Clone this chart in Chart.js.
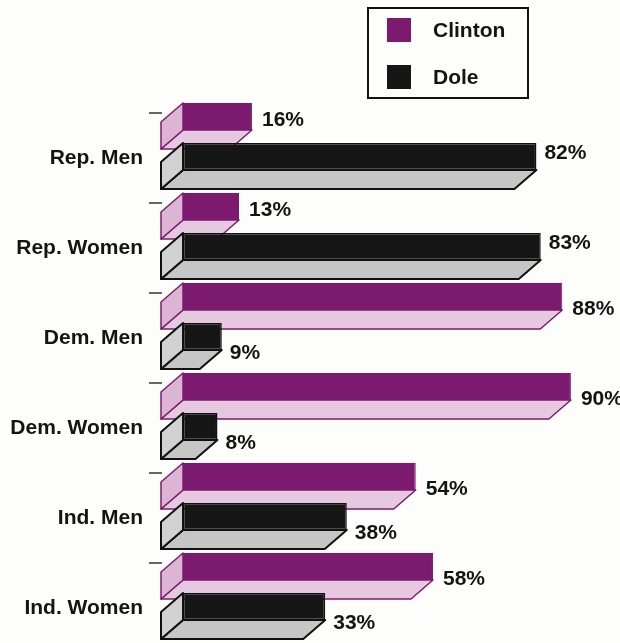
<!DOCTYPE html>
<html>
<head>
<meta charset="utf-8">
<script src="https://cdn.jsdelivr.net/npm/chart.js@4.4.1/dist/chart.umd.min.js"></script>
<style>
  body { margin: 0; background: #fdfdfc; }
  canvas { display: block; }
</style>
</head>
<body>
<canvas id="votes" width="620" height="643"></canvas>
<script>
const categories = ['Rep. Men', 'Rep. Women', 'Dem. Men', 'Dem. Women', 'Ind. Men', 'Ind. Women'];
const seriesNames = ['Clinton', 'Dole'];
const clintonVotes = [16, 13, 88, 90, 54, 58];
const doleVotes = [82, 83, 9, 8, 38, 33];

const FONT = 'bold 21px "Liberation Sans", Arial, sans-serif';
const depthX = -22, depthY = 19;

const looks = [
    { front: '#7b1a6e', edge: '#7b1a6e', side: '#dcb4d4', bottom: '#e6c9e0', line: 1.5 },
    { front: '#161616', edge: '#111111', side: '#d2d2d2', bottom: '#c6c6c6', line: 2 }
];

function poly(ctx, pts, fill, stroke, lw) {
    ctx.beginPath();
    ctx.moveTo(pts[0][0], pts[0][1]);
    for (let k = 1; k < pts.length; k++) ctx.lineTo(pts[k][0], pts[k][1]);
    ctx.closePath();
    ctx.fillStyle = fill;
    ctx.fill();
    ctx.lineWidth = lw;
    ctx.strokeStyle = stroke;
    ctx.lineJoin = 'round';
    ctx.stroke();
}

// side and bottom faces of each bar, plus the little guide dash
const boxFaces = {
    id: 'boxFaces',
    beforeDatasetsDraw(chart) {
        const ctx = chart.ctx;
        ctx.save();
        categories.forEach((_, i) => {
            [0, 1].forEach(d => {
                const bar = chart.getDatasetMeta(d).data[i];
                const { x, y, base, height } = bar.getProps(['x', 'y', 'base', 'height'], true);
                const top = y - height / 2, bottom = y + height / 2;
                const lk = looks[d];
                poly(ctx, [[base, bottom], [x, bottom], [x + depthX, bottom + depthY], [base + depthX, bottom + depthY]],
                    lk.bottom, lk.edge, lk.line);
                poly(ctx, [[base, top], [base, bottom], [base + depthX, bottom + depthY], [base + depthX, top + depthY]],
                    lk.side, lk.edge, lk.line);
                if (d === 0) {
                    ctx.beginPath();
                    ctx.moveTo(base - 34, top + 10);
                    ctx.lineTo(base - 21, top + 10);
                    ctx.lineWidth = 1.5;
                    ctx.strokeStyle = '#333';
                    ctx.stroke();
                }
            });
        });
        ctx.restore();
    },
    afterDatasetsDraw(chart) {
        const ctx = chart.ctx;
        const yScale = chart.scales.y;
        ctx.save();
        ctx.font = FONT;
        ctx.fillStyle = '#141414';
        ctx.textBaseline = 'middle';

        categories.forEach((label, i) => {
            ctx.textAlign = 'right';
            ctx.fillText(label, chart.chartArea.left - 40, yScale.getPixelForValue(i) + 22);

            const c = clintonVotes[i], dl = doleVotes[i];
            ctx.textAlign = 'left';
            const cb = chart.getDatasetMeta(0).data[i];
            ctx.fillText(c + '%', cb.x + 10, cb.y + (c < dl ? 4 : 13));
            const db = chart.getDatasetMeta(1).data[i];
            ctx.fillText(dl + '%', db.x + 8, db.y + (dl > c ? -3 : 17));
        });

        // legend box
        ctx.lineWidth = 2;
        ctx.strokeStyle = '#111';
        ctx.strokeRect(368, 8, 160, 90);
        seriesNames.forEach((name, k) => {
            const sy = 18 + k * 47;
            ctx.fillStyle = looks[k].front;
            ctx.fillRect(387, sy, 24, 24);
            ctx.fillStyle = '#141414';
            ctx.textAlign = 'left';
            ctx.fillText(name, 433, sy + 13);
        });
        ctx.restore();
    }
};

new Chart(document.getElementById('votes'), {
    type: 'bar',
    data: {
        labels: categories,
        datasets: [
            {
                label: seriesNames[0],
                data: clintonVotes,
                backgroundColor: looks[0].front,
                borderColor: looks[0].edge,
                borderWidth: 1,
                borderSkipped: false,
                categoryPercentage: 0.889,
                barPercentage: 0.675
            },
            {
                label: seriesNames[1],
                data: doleVotes,
                backgroundColor: looks[1].front,
                borderColor: looks[1].edge,
                borderWidth: 1.5,
                borderSkipped: false,
                categoryPercentage: 0.889,
                barPercentage: 0.675
            }
        ]
    },
    options: {
        indexAxis: 'y',
        responsive: false,
        animation: false,
        devicePixelRatio: 1,
        layout: { padding: { left: 183, right: 6, top: 91.5, bottom: 11.5 } },
        scales: {
            x: { display: false, min: 0, max: 100 },
            y: { display: false }
        },
        plugins: {
            legend: { display: false },
            tooltip: { enabled: false }
        }
    },
    plugins: [boxFaces]
});
</script>
</body>
</html>
